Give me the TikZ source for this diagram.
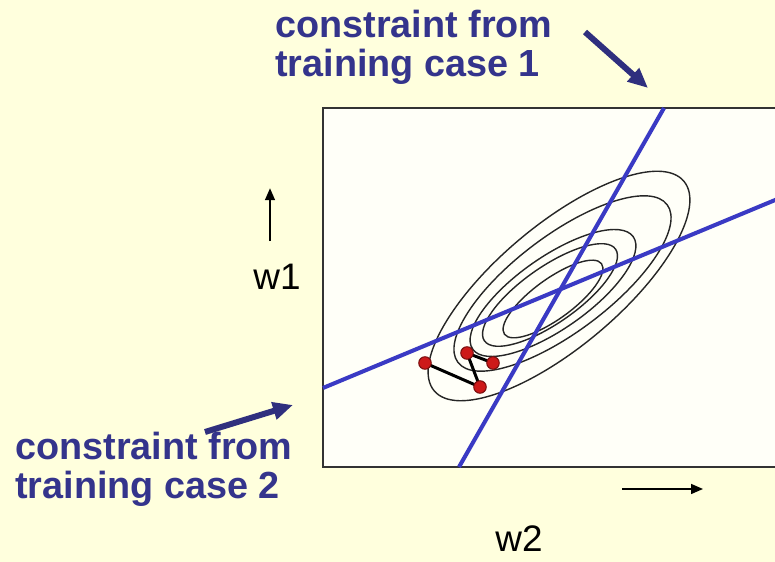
\documentclass[tikz,border=0pt]{standalone}
\usepackage{fontspec}
\setmainfont{Liberation Sans}
\usetikzlibrary{arrows.meta,positioning,calc}
\definecolor{slidebg}{RGB}{255,255,221}
\definecolor{plotbg}{RGB}{255,255,248}
\definecolor{cblue}{RGB}{58,58,196}
\definecolor{lblue}{RGB}{52,52,140}
\definecolor{ptred}{RGB}{205,25,25}
\tikzset{
  frameln/.style={line width=1.1pt, black!80},
  constrln/.style={line width=2.3pt, cblue},
  contourln/.style={line width=0.8pt, black!85},
  pathln/.style={line width=1.7pt, black},
  pointer/.style={-{Triangle[length=4mm,width=3.4mm]}, line width=3.4pt, lblue!90!black},
  axarrow/.style={-{Triangle[length=2.4mm,width=2mm]}, line width=0.9pt},
  caselbl/.style={font=\fontsize{21.5}{22.3}\selectfont\bfseries, text=lblue, align=left, inner sep=0pt},
  axlbl/.style={font=\fontsize{21}{24}\selectfont, inner sep=0pt},
}
\newcommand{\wpt}[1]{%
  \fill[ptred, draw=ptred!60!black, line width=0.6pt] #1 circle (0.125);
}

\begin{document}
\begin{tikzpicture}
    \useasboundingbox (0,0) rectangle (15.5,11.24);
    \fill[slidebg] (0,0) rectangle (15.5,11.24);
    % --- weight space panel ---
    \fill[plotbg] (6.46,1.9) rectangle (15.6,9.08);
    \draw[frameln] (15.6,9.08) -- (6.46,9.08) -- (6.46,1.9) -- (15.6,1.9);
    % error contours
    \foreach \cx/\cy/\ra/\rb/\ang in {11.18/5.52/3.26/1.22/40, 11.25/5.57/2.62/0.96/37,
        11.06/5.38/1.96/0.72/35, 11.0/5.34/1.6/0.56/35, 11.06/5.26/1.2/0.4/36}
      \draw[contourln, rotate around={\ang:(\cx,\cy)}] (\cx,\cy) ellipse ({\ra} and {\rb});
    % constraint lines
    \draw[constrln] (9.18,1.9) -- (13.28,9.08);
    \draw[constrln] (6.46,3.48) -- (15.6,7.28);
    % learning path
    \coordinate (s0) at (8.5,3.98);
    \coordinate (s1) at (9.6,3.5);
    \coordinate (s2) at (9.34,4.18);
    \coordinate (s3) at (9.86,3.98);
    \draw[pathln] (s0) -- (s1) -- (s2) -- (s3);
    \foreach \p in {s0,s1,s2,s3} {\wpt{(\p)}}
    % axes labels
    \node[axlbl, anchor=base] (w1) at (5.54,5.44) {w1};
    \draw[axarrow] ($(w1.north)+(-0.14,0.46)$) -- ++(0,1.06);
    \node[axlbl, anchor=base] (w2) at (10.38,0.2) {w2};
    \draw[axarrow] (12.44,1.46) -- (14.06,1.46);
    % case labels
    \node[caselbl, anchor=north west] (case1) at (5.5,11.04) {constraint from\\training case 1};
    \node[caselbl, anchor=north west] (case2) at (0.3,2.6) {constraint from\\training case 2};
    \coordinate (tail1) at (11.7,10.6);
    \coordinate (tip1) at (12.96,9.48);
    \coordinate (tail2) at (4.1,2.6);
    \coordinate (tip2) at (5.86,3.14);
    \draw[pointer] (tail1) -- (tip1);
    \draw[pointer] (tail2) -- (tip2);
\end{tikzpicture}
\end{document}
